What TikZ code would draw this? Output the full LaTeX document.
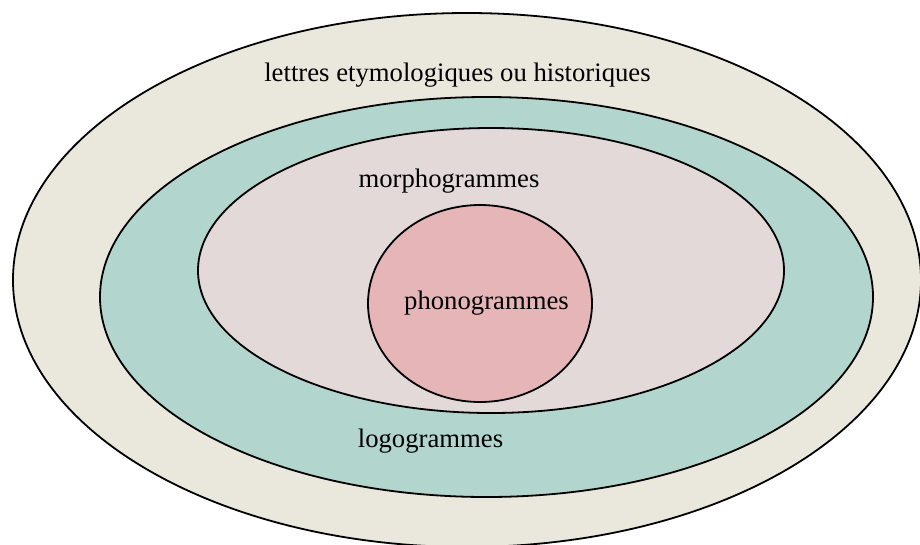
\documentclass[tikz,border=0pt]{standalone}
\usepackage{fontspec}
\setmainfont{Liberation Serif}
\usetikzlibrary{shapes.geometric}
\definecolor{outerc}{HTML}{EAE7DC}
\definecolor{logoc}{HTML}{B2D6CD}
\definecolor{morphc}{HTML}{E3D9D8}
\definecolor{phonoc}{HTML}{E6B5B7}
\tikzset{
  ring/.style={ellipse, draw=black, line width=1.8pt, inner sep=0pt},
  lbl/.style={font=\fontsize{26.7}{30}\selectfont, inner sep=0pt}
}
\begin{document}
\begin{tikzpicture}[x=1pt,y=-1pt]
\useasboundingbox (0,0) rectangle (920,544);
\clip (0,0) rectangle (920,544);
\fill[white] (0,0) rectangle (920,544);
\node[ring, fill=outerc, minimum width=908pt, minimum height=534pt] (outer) at (467,280) {};
\node[ring, fill=logoc, minimum width=773pt, minimum height=400pt] (logo) at (486.5,297) {};
\node[ring, fill=morphc, minimum width=586pt, minimum height=285pt] (morph) at (491,270.5) {};
\node[ring, fill=phonoc, minimum width=224pt, minimum height=197pt] (phono) at (480,303.5) {};
\node[lbl] (tlettres) at (457.5,75) {lettres etymologiques ou historiques};
\node[lbl] (tmorph) at (449,181) {morphogrammes};
\node[lbl] (tphono) at (486.5,303) {phonogrammes};
\node[lbl] (tlogo) at (430.5,441) {logogrammes};
\end{tikzpicture}
\end{document}
